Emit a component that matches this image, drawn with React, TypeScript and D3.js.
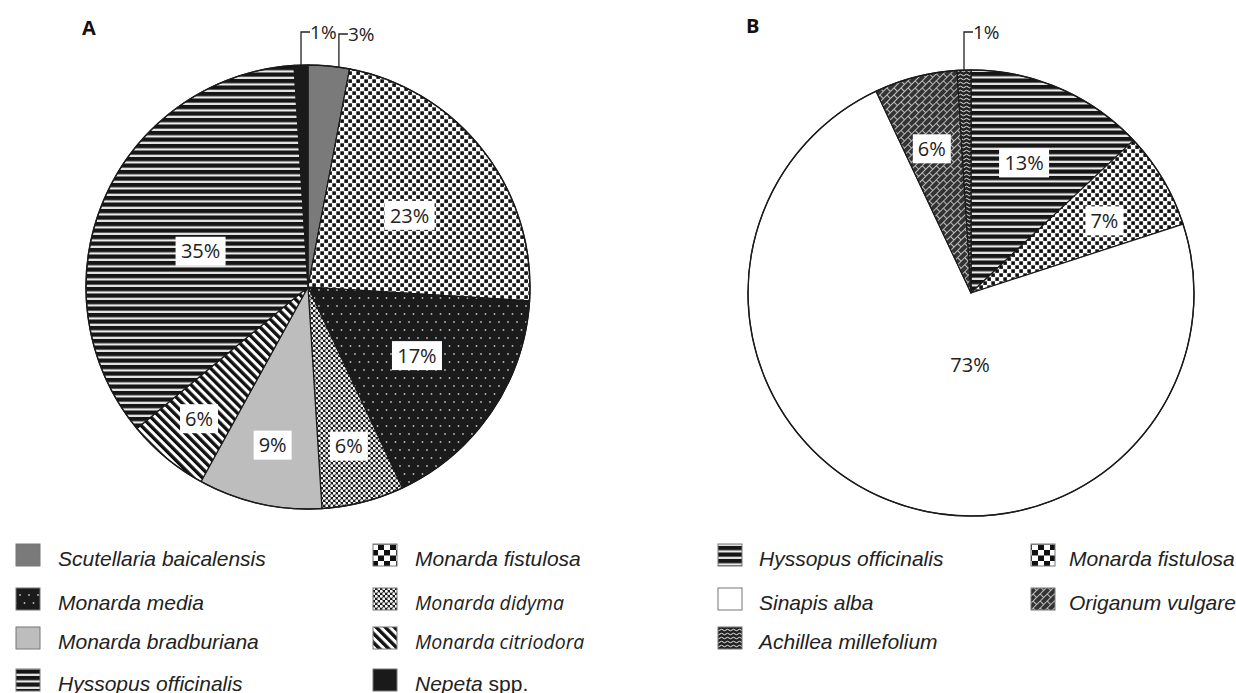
import * as d3 from 'd3';

// Pie A: visitors on the Lamiaceae plots
const speciesA = [
  'Scutellaria baicalensis',
  'Monarda fistulosa',
  'Monarda media',
  'Monarda didyma',
  'Monarda bradburiana',
  'Monarda citriodora',
  'Hyssopus officinalis',
  'Nepeta spp.',
];
const valuesA = [3, 23, 17, 6, 9, 6, 35, 1];

// Pie B
const speciesB = [
  'Hyssopus officinalis',
  'Monarda fistulosa',
  'Sinapis alba',
  'Origanum vulgare',
  'Achillea millefolium',
];
const valuesB = [13, 7, 73, 6, 1];

// legend columns (order as printed)
const legendA = [
  ['Scutellaria baicalensis', 'Monarda media', 'Monarda bradburiana', 'Hyssopus officinalis'],
  ['Monarda fistulosa', 'Monarda didyma', 'Monarda citriodora', 'Nepeta spp.'],
];
const legendB = [
  ['Hyssopus officinalis', 'Sinapis alba', 'Achillea millefolium'],
  ['Monarda fistulosa', 'Origanum vulgare'],
];

// fill for each species
const fills: Record<string, string> = {
  'Scutellaria baicalensis': '#7a7a7a',
  'Monarda fistulosa': 'url(#pChk)',
  'Monarda media': 'url(#pMed)',
  'Monarda didyma': 'url(#pDid)',
  'Monarda bradburiana': '#bdbdbd',
  'Monarda citriodora': 'url(#pCit)',
  'Hyssopus officinalis': 'url(#pHys)',
  'Nepeta spp.': '#1a1a1a',
  'Sinapis alba': '#ffffff',
  'Origanum vulgare': 'url(#pOri)',
  'Achillea millefolium': 'url(#pAch)',
};
// the legend checker icon is printed coarser
const legendFills: Record<string, string> = {
  ...fills,
  'Monarda fistulosa': 'url(#pChkL)',
};

type LabelLayout = { f?: number; da?: number; leader?: number };

// label placement: fraction of radius, angle shift (deg), or leader elbow y
const layoutA: LabelLayout[] = [
  { leader: 34, da: 2.6 },
  { f: 0.56, da: 2.6 },
  { f: 0.58, da: -2 },
  { f: 0.74 },
  { f: 0.73 },
  { f: 0.77 },
  { f: 0.51, da: -5 },
  { leader: 32 },
];
const layoutB: LabelLayout[] = [
  { f: 0.63, da: -1.2 },
  { f: 0.68, da: 2.2 },
  { f: 0.32, da: -22.6 },
  { f: 0.67, da: -0.8 },
  { leader: 32 },
];

const labelFont = '"Open Sans", "Noto Sans", sans-serif';
const legendFont = '"Liberation Sans", Arial, sans-serif';

type PieProps = {
  cx: number;
  cy: number;
  r: number;
  values: number[];
  layout: LabelLayout[];
  species: string[];
};

function Pie({ cx, cy, r, values, layout, species }: PieProps) {
  const arcs = d3
    .pie<number>()
    .sort(null)
    .value((d) => d)(values);
  const arcGen = d3
    .arc<d3.PieArcDatum<number>>()
    .innerRadius(0)
    .outerRadius(r);
  const rad = Math.PI / 180;

  return (
    <g transform={`translate(${cx},${cy})`}>
      {arcs.map((a, i) => (
        <path
          key={i}
          d={arcGen(a) || ''}
          fill={fills[species[i]]}
          stroke="#1a1a1a"
          strokeWidth={1.2}
          strokeLinejoin="round"
        />
      ))}
      <circle r={r} fill="none" stroke="#1a1a1a" strokeWidth={1.4} />
      {arcs.map((a, i) => {
        const lay = layout[i];
        const mid = (a.startAngle + a.endAngle) / 2 + (lay.da || 0) * rad;
        const txt = `${a.data}%`;
        if (lay.leader !== undefined) {
          const [px, py] = d3.pointRadial(mid, r);
          const ey = lay.leader - cy;
          return (
            <g key={'l' + i}>
              <path
                d={`M${px},${py}V${ey}H${px + 9}`}
                fill="none"
                stroke="#222"
                strokeWidth={1.3}
              />
              <text
                x={px + 9}
                y={ey + 6.8}
                fontFamily={labelFont}
                fontSize={19}
                fill="#222"
              >
                {txt}
              </text>
            </g>
          );
        }
        const [lx, ly] = d3.pointRadial(mid, r * (lay.f || 0.5));
        const w = txt.length * 12 + 14;
        return (
          <g key={'l' + i}>
            <rect x={lx - w / 2} y={ly - 14.5} width={w} height={29} fill="#fff" />
            <text
              x={lx}
              y={ly + 7.2}
              textAnchor="middle"
              fontFamily={labelFont}
              fontSize={20}
              fill="#222"
            >
              {txt}
            </text>
          </g>
        );
      })}
    </g>
  );
}

type LegendProps = {
  columns: string[][];
  cols: { sx: number; tx: number }[];
  rows: number[];
};

function Legend({ columns, cols, rows }: LegendProps) {
  return (
    <g>
      {columns.map((col, ci) =>
        col.map((name, ri) => {
          const y = rows[ri];
          const myriad = name === 'Monarda didyma' || name === 'Monarda citriodora';
          const isSpp = name.endsWith(' spp.');
          return (
            <g key={ci + '-' + ri}>
              <rect
                x={cols[ci].sx}
                y={y - 11}
                width={24}
                height={22}
                fill={legendFills[name]}
                stroke="#777"
                strokeWidth={1}
              />
              <text
                x={cols[ci].tx}
                y={y + 10.5}
                fontFamily={myriad ? labelFont : legendFont}
                fontSize={myriad ? 19.5 : 21}
                fontStyle="italic"
                fill="#222"
              >
                {isSpp ? (
                  <>
                    <tspan>{name.replace(' spp.', '')}</tspan>
                    <tspan fontStyle="normal"> spp.</tspan>
                  </>
                ) : (
                  name
                )}
              </text>
            </g>
          );
        })
      )}
    </g>
  );
}

export default function App() {
  return (
    <svg
      width={1236}
      height={693}
      style={{ position: 'absolute', left: 0, top: 0, background: '#fff' }}
    >
      <defs>
        <pattern id="pHys" width={8} height={6.5} patternUnits="userSpaceOnUse">
          <rect width={8} height={6.5} fill="#161616" />
          <rect y={4.2} width={8} height={2.3} fill="#cfcfcf" />
          <rect y={4.9} width={8} height={1} fill="#ffffff" />
        </pattern>
        <pattern id="pChk" width={8} height={8} patternUnits="userSpaceOnUse">
          <rect width={8} height={8} fill="#fff" />
          <rect x={0.3} y={0.3} width={3.6} height={3.6} fill="#111" />
          <rect x={4.3} y={4.3} width={3.6} height={3.6} fill="#111" />
        </pattern>
        <pattern id="pChkL" width={12} height={11} patternUnits="userSpaceOnUse">
          <rect width={12} height={11} fill="#fff" />
          <rect x={0} y={0} width={6} height={5.5} fill="#111" />
          <rect x={6} y={5.5} width={6} height={5.5} fill="#111" />
        </pattern>
        <pattern id="pMed" width={9} height={16} patternUnits="userSpaceOnUse">
          <rect width={9} height={16} fill="#1b1b1b" />
          <circle cx={2} cy={3} r={0.9} fill="#bbb" />
          <circle cx={6.5} cy={11} r={0.9} fill="#bbb" />
        </pattern>
        <pattern id="pDid" width={5} height={5} patternUnits="userSpaceOnUse">
          <rect width={5} height={5} fill="#1e1e1e" />
          <circle cx={1.25} cy={1.25} r={1.45} fill="#fff" />
          <circle cx={3.75} cy={3.75} r={1.45} fill="#f2f2f2" />
        </pattern>
        <pattern
          id="pCit"
          width={6.4}
          height={6.4}
          patternUnits="userSpaceOnUse"
          patternTransform="rotate(-45)"
        >
          <rect width={6.4} height={6.4} fill="#fff" />
          <rect width={3.4} height={6.4} fill="#111" />
        </pattern>
        <pattern
          id="pOri"
          width={10}
          height={10}
          patternUnits="userSpaceOnUse"
          patternTransform="rotate(-45)"
        >
          <rect width={10} height={10} fill="#333" />
          <path
            d="M0,0.5H10M0,5.5H10M0.5,0V5M5.5,5V10"
            stroke="#bdbdbd"
            strokeWidth={1}
            fill="none"
          />
        </pattern>
        <pattern id="pAch" width={6} height={4} patternUnits="userSpaceOnUse">
          <rect width={6} height={4} fill="#222" />
          <path d="M0,2Q1.5,0.5 3,2T6,2" stroke="#fff" strokeWidth={0.9} fill="none" />
        </pattern>
      </defs>

      <text x={82} y={35} fontFamily={labelFont} fontWeight={700} fontSize={20} fill="#111">
        A
      </text>
      <text x={746} y={33} fontFamily={labelFont} fontWeight={700} fontSize={20} fill="#111">
        B
      </text>

      <Pie cx={308} cy={287} r={222} values={valuesA} layout={layoutA} species={speciesA} />
      <Pie cx={971} cy={293} r={223} values={valuesB} layout={layoutB} species={speciesB} />

      <Legend
        columns={legendA}
        cols={[
          { sx: 16, tx: 58 },
          { sx: 373, tx: 415 },
        ]}
        rows={[555, 599, 638, 680]}
      />
      <Legend
        columns={legendB}
        cols={[
          { sx: 718, tx: 759 },
          { sx: 1031, tx: 1069 },
        ]}
        rows={[555, 599, 638]}
      />
    </svg>
  );
}
